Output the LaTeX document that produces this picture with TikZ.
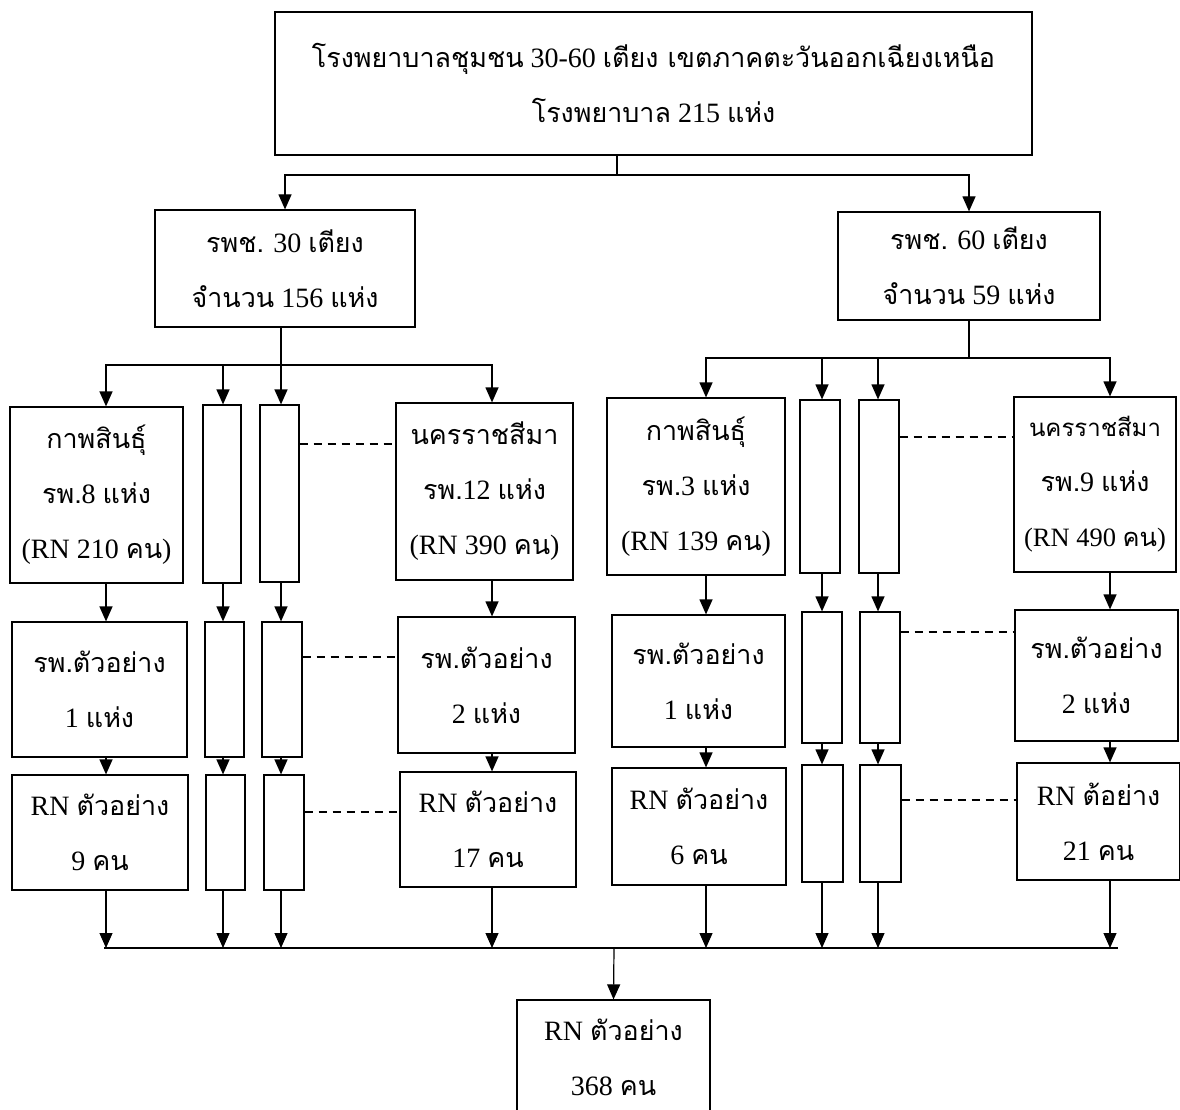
\documentclass[tikz,border=0pt]{standalone}
\usepackage{fontspec}
\setmainfont{Liberation Serif}
\newfontfamily\thaifont[Script=Thai,Scale=0.96]{Loma}
\newcommand\thx[1]{{\thaifont #1}}
\usetikzlibrary{arrows.meta}
\tikzset{
  box/.style={draw, line width=1.2pt, inner sep=0pt, align=center, font=\fontsize{28}{55}\selectfont},
  arr/.style={line width=1.2pt, -{Triangle[length=15pt,width=13pt]}},
  ln/.style={line width=1.2pt},
  dsh/.style={line width=1.1pt, dash pattern=on 8pt off 6pt},
}
\newcommand\bx[6]{\node[box, minimum width=#4pt, minimum height=#5pt] (#1) at (#2,#3) {#6};}
\begin{document}
\begin{tikzpicture}[x=1pt,y=-1pt]
\useasboundingbox (0,0) rectangle (1180,1110);
% boxes
\bx{top}{653.5}{83.5}{757}{143}{\thx{โรงพยาบาลชุมชน} 30-60 \thx{เตียง เขตภาคตะวันออกเฉียงเหนือ}\\ \thx{โรงพยาบาล} 215 \thx{แห่ง}}
\bx{L}{285}{268.5}{260}{117}{\thx{รพช.} 30 \thx{เตียง}\\ \thx{จำนวน} 156 \thx{แห่ง}}
\bx{R}{969}{266}{262}{108}{\thx{รพช.} 60 \thx{เตียง}\\ \thx{จำนวน} 59 \thx{แห่ง}}
% left branch
\bx{A1}{96.5}{495}{173}{176}{\thx{กาพสินธุ์}\\ \thx{รพ.}8 \thx{แห่ง}\\ (RN 210 \thx{คน})}
\bx{B1}{222}{494}{38}{178}{}
\bx{C1}{279.5}{493.5}{39}{177}{}
\bx{D1}{484.5}{491.5}{177}{177}{\thx{นครราชสีมา}\\ \thx{รพ.}12 \thx{แห่ง}\\ (RN 390 \thx{คน})}
\bx{A2}{99.5}{689.5}{175}{135}{\thx{รพ.ตัวอย่าง}\\ 1 \thx{แห่ง}}
\bx{B2}{224.5}{689.5}{39}{135}{}
\bx{C2}{282}{689.5}{40}{135}{}
\bx{D2}{486.5}{685}{177}{136}{\thx{รพ.ตัวอย่าง}\\ 2 \thx{แห่ง}}
\bx{A3}{100}{832.5}{176}{115}{RN \thx{ตัวอย่าง}\\ 9 \thx{คน}}
\bx{B3}{225.5}{832.5}{39}{115}{}
\bx{C3}{284}{832.5}{40}{115}{}
\bx{D3}{488}{829.5}{176}{115}{RN \thx{ตัวอย่าง}\\ 17 \thx{คน}}
% right branch
\bx{E1}{696}{486.5}{178}{177}{\thx{กาพสินธุ์}\\ \thx{รพ.}3 \thx{แห่ง}\\ (RN 139 \thx{คน})}
\bx{F1}{820}{486.5}{40}{173}{}
\bx{G1}{879}{486.5}{40}{173}{}
\bx{H1}{1095}{484.5}{162}{175}{{\fontsize{25}{55}\selectfont\thx{นครราชสีมา}}\\ \thx{รพ.}9 \thx{แห่ง}\\ {\fontsize{26.5}{55}\selectfont(RN 490 \thx{คน})}}
\bx{E2}{698.5}{681}{173}{132}{\thx{รพ.ตัวอย่าง}\\ 1 \thx{แห่ง}}
\bx{F2}{822}{677.5}{40}{131}{}
\bx{G2}{880}{677.5}{40}{131}{}
\bx{H2}{1096.5}{675.5}{163}{131}{\thx{รพ.ตัวอย่าง}\\ 2 \thx{แห่ง}}
\bx{E3}{699}{826.5}{174}{117}{RN \thx{ตัวอย่าง}\\ 6 \thx{คน}}
\bx{F3}{822.5}{823.5}{41}{117}{}
\bx{G3}{880.5}{823.5}{41}{117}{}
\bx{H3}{1098.5}{821.5}{163}{117}{RN \thx{ต้อย่าง}\\ 21 \thx{คน}}
\bx{fin}{613.5}{1057.5}{193}{115}{RN \thx{ตัวอย่าง}\\ 368 \thx{คน}}
% column coordinates
\coordinate (cA) at (106,0);
\coordinate (cB) at (223,0);
\coordinate (cC) at (281,0);
\coordinate (cD) at (492,0);
\coordinate (cE) at (706,0);
\coordinate (cF) at (822,0);
\coordinate (cG) at (878,0);
\coordinate (cH) at (1110,0);
% top split
\coordinate (j0) at (617,175);
\draw[ln] (top.south -| j0) -- (j0);
\draw[arr] (j0) -| (L.north);
\draw[arr] (j0) -| (R.north);
% left split
\coordinate (jL) at (281,365);
\draw[ln] (L.south -| jL) -- (jL);
\draw[arr] (jL) -| (A1.north -| cA);
\draw[arr] (jL) -| (D1.north -| cD);
\draw[arr] (jL -| cB) -- (B1.north -| cB);
\draw[arr] (jL -| cC) -- (C1.north -| cC);
% right split
\coordinate (jR) at (969,358);
\draw[ln] (R.south) -- (jR);
\draw[arr] (jR) -| (E1.north -| cE);
\draw[arr] (jR) -| (H1.north -| cH);
\draw[arr] (jR -| cF) -- (F1.north -| cF);
\draw[arr] (jR -| cG) -- (G1.north -| cG);
% row arrows
\foreach \c/\a/\b/\d in {cA/A1/A2/A3, cB/B1/B2/B3, cC/C1/C2/C3, cD/D1/D2/D3, cE/E1/E2/E3, cF/F1/F2/F3, cG/G1/G2/G3, cH/H1/H2/H3}{
  \draw[arr] (\a.south -| \c) -- (\b.north -| \c);
  \draw[arr] (\b.south -| \c) -- (\d.north -| \c);
}
% merge
\coordinate (jB) at (614,948);
\coordinate (bl) at (104,948);
\coordinate (br) at (1118,948);
\draw[ln] (bl) -- (br);
\foreach \c/\d in {cA/A3, cB/B3, cC/C3, cD/D3, cE/E3, cF/F3, cG/G3, cH/H3}{
  \draw[arr] (\d.south -| \c) -- (\c |- jB);
}
\draw[arr] (jB) -- (fin.north);
% dashed links
\coordinate (y1) at (0,444);
\coordinate (y2) at (0,657);
\coordinate (y3) at (0,812);
\coordinate (y4) at (0,437);
\coordinate (y5) at (0,632);
\coordinate (y6) at (0,800);
\draw[dsh] (C1.east |- y1) -- (D1.west |- y1);
\draw[dsh] (C2.east |- y2) -- (D2.west |- y2);
\draw[dsh] (C3.east |- y3) -- (D3.west |- y3);
\draw[dsh] (G1.east |- y4) -- (H1.west |- y4);
\draw[dsh] (G2.east |- y5) -- (H2.west |- y5);
\draw[dsh] (G3.east |- y6) -- (H3.west |- y6);
\end{tikzpicture}
\end{document}
